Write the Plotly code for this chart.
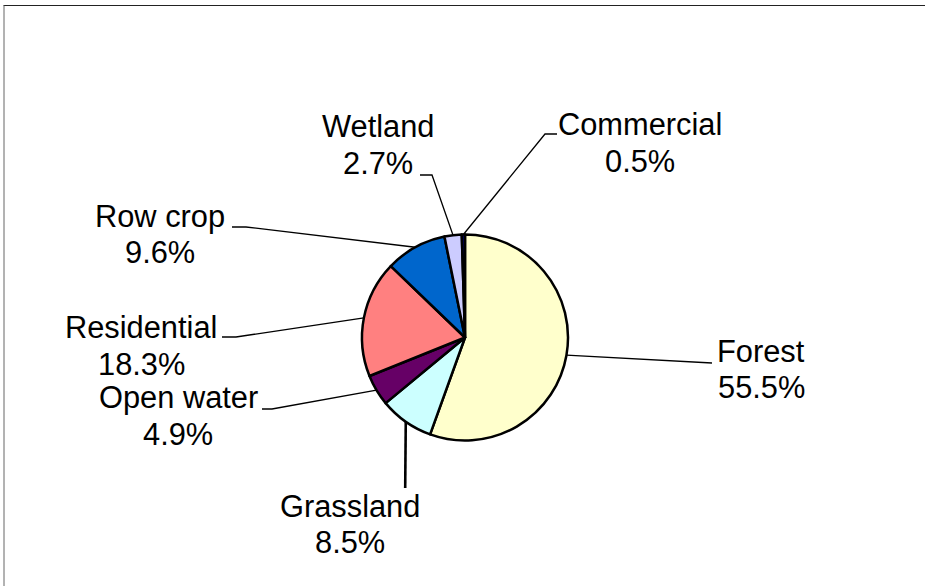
import math
import plotly.graph_objects as go

# ---- data ----
categories = ["Forest", "Grassland", "Open water", "Residential", "Row crop", "Wetland", "Commercial"]
percent = [55.5, 8.5, 4.9, 18.3, 9.6, 2.7, 0.5]
colors = ["#FFFFCC", "#CCFFFF", "#660066", "#FF8080", "#0066CC", "#CCCCFF", "#000080"]

# ---- layout constants (pixels) ----
W, H = 925, 586
CX, CY, R = 465, 337.5, 103
FONT = "Arial, 'Liberation Sans', sans-serif"
FS = 30.8
LINE_GAP = 36.7
MID_OFF = 0.3465 * FS

# label placement: (x centre, baseline of first line)
label_pos = [(761, 361.7), (350, 516.7), (178, 408.3), (141, 338.3),
             (160, 226.7), (378, 137.5), (640, 135)]
# leader line points on the label side (from text toward slice)
leader_outer = [[(712, 363)], [(405.2, 488)], [(262, 409), (272, 409)],
                [(222, 337), (236, 337)], [(232, 227), (246, 227)],
                [(420, 175), (432, 175)], [(557, 134), (545, 134)]]
leader_width = [1.3, 2.6, 1.3, 1.3, 1.3, 1.3, 1.3]

fig = go.Figure()

# leader lines: end at each slice's mid-angle on the rim
total = sum(percent)
cum = 0.0
for i, p in enumerate(percent):
    mid = (cum + p / 2) / total * 2 * math.pi
    cum += p
    px = CX + R * math.sin(mid)
    py = CY - R * math.cos(mid)
    xs = [pt[0] for pt in leader_outer[i]] + [px]
    ys = [pt[1] for pt in leader_outer[i]] + [py]
    fig.add_trace(go.Scatter(x=xs, y=ys, mode="lines",
                             line=dict(color="black", width=leader_width[i]),
                             hoverinfo="skip", showlegend=False))

fig.add_trace(go.Pie(
    values=percent, labels=categories, sort=False, direction="clockwise", rotation=0,
    marker=dict(colors=colors, line=dict(color="black", width=2.5)),
    textinfo="none", hoverinfo="label+percent", showlegend=False,
    domain=dict(x=[(CX - R) / W, (CX + R) / W],
                y=[(H - CY - R) / H, (H - CY + R) / H]),
))

annotations = []
for i, name in enumerate(categories):
    x, base = label_pos[i]
    for j, txt in enumerate([name, f"{percent[i]:.1f}%"]):
        annotations.append(dict(
            x=x, y=base + j * LINE_GAP - MID_OFF, xref="x", yref="y",
            text=txt, showarrow=False, xanchor="center", yanchor="middle",
            font=dict(family=FONT, size=FS, color="black")))

fig.update_layout(
    width=W, height=H, margin=dict(l=0, r=0, t=0, b=0, pad=0),
    paper_bgcolor="white", plot_bgcolor="white",
    xaxis=dict(range=[0, W], visible=False, fixedrange=True),
    yaxis=dict(range=[H, 0], visible=False, fixedrange=True),
    annotations=annotations,
    shapes=[
        dict(type="line", xref="x", yref="y", x0=3.5, y0=5.5, x1=W, y1=5.5,
             line=dict(color="#222222", width=1)),
        dict(type="line", xref="x", yref="y", x0=4, y0=5.5, x1=4, y1=H,
             line=dict(color="#666666", width=1)),
    ],
)

fig.write_html("out.html", config={"displayModeBar": False},
               post_script="document.documentElement.style.overflow='hidden';"
                           "document.body.style.margin='0';document.body.style.overflow='hidden';")
